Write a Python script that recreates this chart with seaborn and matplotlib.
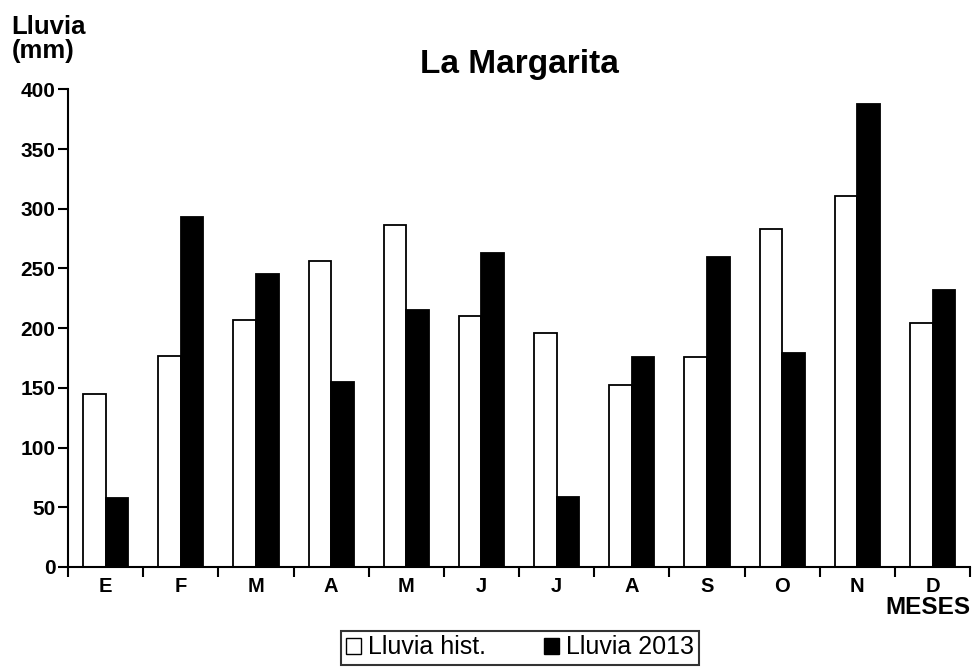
import matplotlib
matplotlib.use("Agg")
import matplotlib.pyplot as plt
from matplotlib.patches import Patch
import numpy as np
import pandas as pd
import seaborn as sns

# monthly rainfall (mm) at La Margarita
meses = ["Ene", "Feb", "Mar", "Abr", "May", "Jun", "Jul", "Ago", "Sep", "Oct", "Nov", "Dic"]
etiquetas = ["E", "F", "M", "A", "M", "J", "J", "A", "S", "O", "N", "D"]
lluvia_hist = [145, 177, 207, 256, 286, 210, 196, 152, 176, 283, 311, 204]
lluvia_2013 = [58, 293, 245, 155, 215, 263, 59, 176, 260, 179, 388, 232]
series = ["Lluvia hist.", "Lluvia 2013"]

sns.set_theme(style="ticks")
plt.rcParams["font.family"] = ["Liberation Sans", "DejaVu Sans"]
plt.rcParams["text.color"] = "black"
plt.rcParams["xtick.color"] = "black"
plt.rcParams["ytick.color"] = "black"

df = pd.DataFrame({
    "mes": meses * 2,
    "lluvia": lluvia_hist + lluvia_2013,
    "serie": [series[0]] * 12 + [series[1]] * 12,
})

fig, ax = plt.subplots(figsize=(9.77, 6.67), dpi=100)
fig.subplots_adjust(left=0.0696, right=0.993, bottom=0.15, top=0.866)

sns.barplot(data=df, x="mes", y="lluvia", hue="serie", order=meses, hue_order=series,
            palette=["white", "black"], edgecolor="black", linewidth=1.3,
            width=0.6, gap=0, saturation=1, legend=False, ax=ax)

ax.set_xlim(-0.5, 11.5)
ax.set_ylim(0, 400)
ax.set_xlabel("")
ax.set_ylabel("")
ax.set_yticks(np.arange(0, 401, 50))
ax.set_xticks(range(12))
ax.set_xticklabels(etiquetas)
ax.set_xticks(np.arange(-0.5, 12, 1), minor=True)
ax.tick_params(axis="x", which="major", length=0, pad=7, labelsize=14.5)
ax.tick_params(axis="x", which="minor", length=7, width=1.5, color="black", direction="out")
ax.tick_params(axis="y", length=7, width=1.5, color="black", direction="out", pad=2, labelsize=15)
for lab in ax.get_xticklabels() + ax.get_yticklabels():
    lab.set_fontweight("bold")
    lab.set_color("black")

sns.despine(ax=ax)
for side in ["left", "bottom"]:
    ax.spines[side].set_linewidth(1.5)
    ax.spines[side].set_color("black")

ax.set_title("La Margarita", fontsize=24, fontweight="bold", pad=12, color="black")
fig.text(0.012, 0.977, "Lluvia\n(mm)", fontsize=18.5, fontweight="bold", color="black",
         ha="left", va="top", linespacing=1.0)
fig.text(0.993, 1 - 614 / 667, "MESES", fontsize=17.5, fontweight="bold", color="black",
         ha="right", va="baseline")

handles = [Patch(facecolor="white", edgecolor="black", linewidth=1),
           Patch(facecolor="black", edgecolor="black", linewidth=1)]
leg = fig.legend(handles, series, loc="lower center", bbox_to_anchor=(0.532, 0.0),
                 ncol=2, fontsize=18, frameon=True, fancybox=False,
                 handlelength=0.6, handleheight=0.6, handletextpad=0.3,
                 columnspacing=2.3, borderpad=0.2, borderaxespad=0.1)
leg.get_frame().set_edgecolor("black")
leg.get_frame().set_linewidth(1.5)
for t in leg.get_texts():
    t.set_color("black")

fig.savefig("out.png", dpi=100)
